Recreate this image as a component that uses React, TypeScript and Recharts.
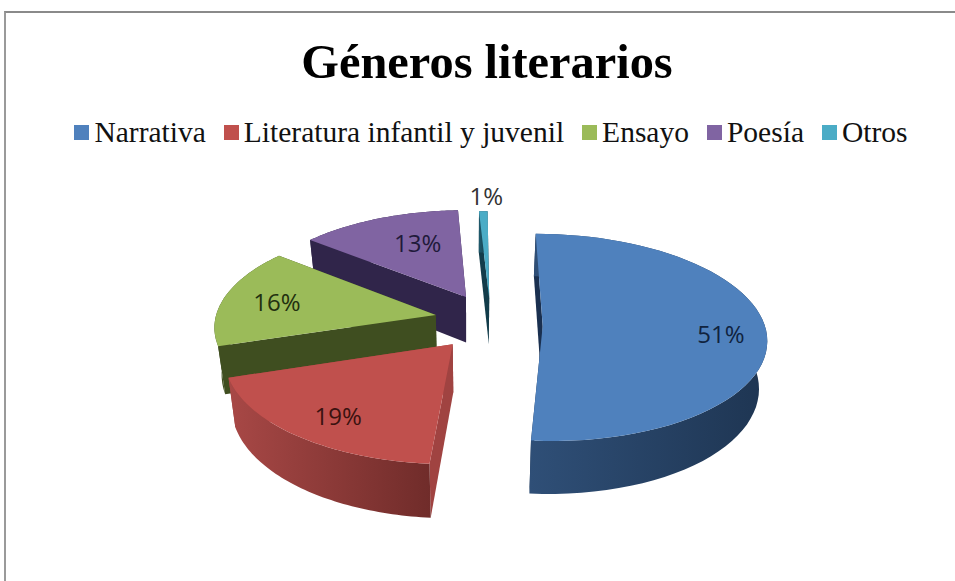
import React from "react";
import { PieChart, Pie, Legend } from "recharts";

const CATEGORIES = ["Narrativa", "Literatura infantil y juvenil", "Ensayo", "Poesía", "Otros"];
const SHARES = [51.3, 18.8, 15.8, 13.4, 0.7];
const COLORS = ["#4f81bd", "#c0504d", "#9bbb59", "#8064a2", "#4bacc6"];

// slice placement on the tilted plane, in pie radii, and its wall shading
const OFFSETS_U = [0.318, -0.085, -0.165, -0.028, 0.08];
const OFFSETS_V = [-0.01, -0.185, 0.1, 0.283, 0.27];
const LABEL_RADII = [0.79, 0.78, 0.75, 0.68, 1.2];
const LABEL_SHIFT_X = [2, 5, 0, 13, 4];
const LABEL_SHIFT_Y = [4, 2, 0, 0, 0];
const LABEL_COLORS = ["#10233f", "#3a1210", "#22300f", "#211a3a", "#333333"];
const WALL_LIGHT = ["#2f4f77", "#a84846", "#3f4e20", "#30254a", "#1f5a6c"];
const WALL_DARK = ["#1e3552", "#702c2a", "#3f4e20", "#30254a", "#123c4a"];
const EDGE_COLORS = ["#1a3050", "#a04341", "#3f4e20", "#30254a", "#123c4a"];

const FLATTEN = 0.46;
const PERSPECTIVE = 0.11;
const DEPTH = 47;
const LEAN = 0.028; // walls narrow toward the pie axis as they go down

const rows = CATEGORIES.map((name, i) => ({ name, value: SHARES[i], fill: COLORS[i], slot: i })).reverse();

function Slice3D(props: any) {
  const { cx, cy, outerRadius, startAngle, endAngle, percent, fill, index } = props;
  const slot = rows[index].slot;
  const ou = OFFSETS_U[slot];
  const ov = OFFSETS_V[slot];
  const rad = Math.PI / 180;

  const project = (u: number, v: number) => {
    const w = 1 + PERSPECTIVE * v;
    return { x: cx + (outerRadius * u) / w, y: cy - (outerRadius * FLATTEN * v) / w, d: DEPTH / w };
  };
  const rim = (a: number) => project(ou + Math.cos(a * rad), ov + Math.sin(a * rad));

  const apex = project(ou, ov);
  const arc = Array.from({ length: 61 }, (_, i) => rim(startAngle + ((endAngle - startAngle) * i) / 60));
  const first = arc[0];
  const last = arc[arc.length - 1];

  const line = (pts: { x: number; y: number }[]) =>
    pts.map((p, i) => `${i ? "L" : "M"}${p.x.toFixed(1)} ${p.y.toFixed(1)}`).join(" ") + " Z";
  const down = (p: { x: number; y: number; d: number }) => ({
    x: cx + (p.x - cx) * (1 - LEAN),
    y: p.y + p.d,
  });

  const mid = ((startAngle + endAngle) / 2) * rad;
  const labelAt = project(
    ou + LABEL_RADII[slot] * Math.cos(mid),
    ov + LABEL_RADII[slot] * Math.sin(mid)
  );
  const gradientId = `wall-${slot}`;

  return (
    <g>
      <defs>
        <linearGradient id={gradientId} x1="0" y1="0" x2="1" y2="0">
          <stop offset="0%" stopColor={WALL_LIGHT[slot]} />
          <stop offset="100%" stopColor={WALL_DARK[slot]} />
        </linearGradient>
      </defs>
      <path d={line([apex, first, down(first), down(apex)])} fill={EDGE_COLORS[slot]} />
      <path d={line([apex, last, down(last), down(apex)])} fill={EDGE_COLORS[slot]} />
      <path d={line([...arc, ...arc.map(down).reverse()])} fill={`url(#${gradientId})`} />
      <path d={line([apex, ...arc])} fill={fill} />
      <text
        x={labelAt.x + LABEL_SHIFT_X[slot]}
        y={labelAt.y + LABEL_SHIFT_Y[slot]}
        textAnchor="middle"
        dominantBaseline="central"
        fontFamily="'Open Sans', sans-serif"
        fontSize={24}
        fill={LABEL_COLORS[slot]}
      >
        {Math.round(percent * 100)}%
      </text>
    </g>
  );
}

function LegendRow() {
  return (
    <div
      style={{
        display: "flex",
        alignItems: "center",
        justifyContent: "center",
        gap: 18,
        fontFamily: "'Liberation Serif', serif",
        fontSize: 29.5,
        color: "#111",
        whiteSpace: "nowrap",
      }}
    >
      {CATEGORIES.map((name, i) => (
        <span key={name} style={{ display: "flex", alignItems: "center", gap: 5 }}>
          <span style={{ width: 15, height: 15, background: COLORS[i], display: "inline-block" }} />
          {name}
        </span>
      ))}
    </div>
  );
}

export default function App() {
  return (
    <div
      style={{
        position: "absolute",
        left: 0,
        top: 0,
        width: 955,
        height: 581,
        overflow: "hidden",
        background: "#fff",
      }}
    >
      <div
        style={{
          position: "absolute",
          left: 4,
          top: 11,
          right: -4,
          bottom: -4,
          borderLeft: "2px solid #9a9a9a",
          borderTop: "2px solid #8a8a8a",
        }}
      />
      <div
        style={{
          position: "absolute",
          left: 0,
          top: 34,
          width: 974,
          textAlign: "center",
          fontFamily: "'Liberation Serif', serif",
          fontWeight: "bold",
          fontSize: 48.4,
          lineHeight: "56px",
          color: "#000",
        }}
      >
        Géneros literarios
      </div>
      <PieChart width={955} height={581} margin={{ top: 0, right: 0, bottom: 0, left: 0 }}>
        <Legend
          content={<LegendRow />}
          wrapperStyle={{ position: "absolute", left: 0, top: 116, width: 982, height: 36 }}
        />
        <Pie
          data={rows}
          dataKey="value"
          nameKey="name"
          cx={472}
          cy={325}
          outerRadius={222}
          startAngle={-270}
          endAngle={90}
          stroke="none"
          shape={Slice3D}
          isAnimationActive={false}
        />
      </PieChart>
    </div>
  );
}
